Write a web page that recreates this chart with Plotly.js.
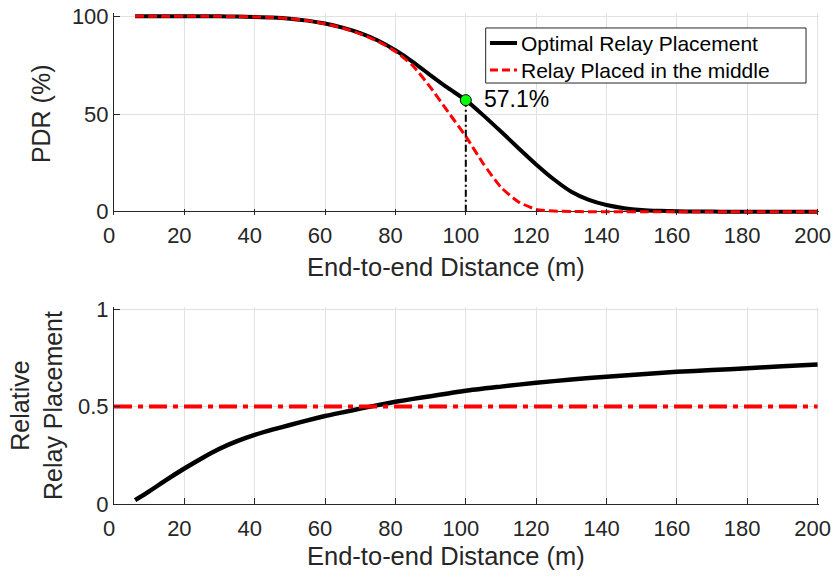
<!DOCTYPE html>
<html>
<head>
<meta charset="utf-8">
<script src="https://cdn.plot.ly/plotly-3.0.1.min.js"></script>
<style>html,body{margin:0;padding:0;background:#fff;}#chart{width:835px;height:577px;}</style>
</head>
<body>
<div id="chart"></div>
<script>
// ---- data ----
const distance = [6,10,15,20,25,30,35,40,45,50,55,60,65,70,75,80,85,90,95,100,105,110,115,120,125,130,135,140,145,150,155,160,165,170,175,180,185,190,195,200];
const pdrOptimal = [100,100,100,100,100,100,99.9,99.7,99.4,98.8,97.8,96.3,94.2,91.4,87.6,82.6,76.6,69.8,63.2,57.1,49.3,41.0,32.5,24.2,16.6,10.2,6.0,3.4,1.8,0.9,0.45,0.2,0.1,0.05,0,0,0,0,0,0];
const pdrMiddle  = [100,100,100,100,100,100,99.9,99.7,99.4,98.8,97.8,96.2,94.0,91.0,87.2,82.0,74.6,63.5,51.0,38.5,24.5,12.5,5.0,1.2,0.3,0.1,0,0,0,0,0,0,0,0,0,0,0,0,0,0];

const relDistance = [6,10,15,20,25,30,35,40,45,50,55,60,65,70,75,80,85,90,95,100,110,120,130,140,150,160,170,180,190,200];
const relOptimal  = [0.02,0.065,0.125,0.182,0.235,0.283,0.322,0.354,0.381,0.405,0.429,0.451,0.47,0.489,0.507,0.524,0.539,0.553,0.567,0.581,0.602,0.622,0.638,0.653,0.666,0.678,0.687,0.696,0.706,0.716];
const middleX = [0,200];
const middleY = [0.5,0.5];

const markX = [100];
const markY = [57.1];
const markLineX = [100,100];
const markLineY = [0,57.1];
const markLabel = '57.1%';

const xTicks = [0,20,40,60,80,100,120,140,160,180,200];
const yTicksTop = [0,50,100];
const yTicksBot = [0,0.5,1];
const yTickTextBot = ['0','0.5','1'];

const names = ['Optimal Relay Placement','Relay Placed in the middle'];
const xTitle = 'End-to-end Distance (m)';
const yTitleTop = 'PDR (%)';
const yTitleBot = 'Relative<br>Relay Placement';

// ---- styles ----
const BLACK = '#000000', RED = '#ff0000', GREEN = '#00ff00', AX = '#262626', GRID = '#e2e2e2';
const redDash = '9px,4px';

// ---- traces ----
const traces = [
  {x: distance, y: pdrOptimal, xaxis:'x', yaxis:'y', mode:'lines', name:names[0], showlegend:false,
   line:{color:BLACK, width:4, shape:'spline', smoothing:0.6}},
  {x: distance, y: pdrMiddle, xaxis:'x', yaxis:'y', mode:'lines', name:names[1], showlegend:false,
   line:{color:RED, width:3, dash:redDash, shape:'spline', smoothing:0.6}},
  {x: markLineX, y: markLineY, xaxis:'x', yaxis:'y', mode:'lines', showlegend:false,
   line:{color:BLACK, width:2, dash:'7px,3px,2px,3px'}},
  {x: markX, y: markY, xaxis:'x', yaxis:'y', mode:'markers', showlegend:false, cliponaxis:false,
   marker:{color:GREEN, size:11, line:{color:BLACK, width:1}}},
  {x: relDistance, y: relOptimal, xaxis:'x2', yaxis:'y2', mode:'lines', showlegend:false,
   line:{color:BLACK, width:4.5, shape:'spline', smoothing:0.6}},
  {x: middleX, y: middleY, xaxis:'x2', yaxis:'y2', mode:'lines', showlegend:false,
   line:{color:RED, width:4, dash:'18px,6px,5px,6px'}}
];

const axisCommon = {
  ticks:'inside', ticklen:6, tickwidth:1, tickcolor:AX,
  showgrid:true, gridcolor:GRID, gridwidth:1,
  tickfont:{size:22, color:AX}
};
const xCommon = Object.assign({}, axisCommon, {
  range:[0,200.4], tickvals:xTicks, ticklabelshift:-5, ticklabelstandoff:5,
  ticklabeloverflow:'allow'
});

// legend geometry (paper coords)
const LG = {x0:0.5272, x1:0.9816, y0:0.8574, y1:0.9695, lx0:0.5333, lx1:0.5716, tx:0.5745, r1:0.9389, r2:0.8839};

const layout = {
  width:835, height:577,
  margin:{l:114, r:16, t:13, b:73},
  paper_bgcolor:'#ffffff', plot_bgcolor:'#ffffff',
  font:{family:'"Liberation Sans", Arial, Helvetica, sans-serif', size:22, color:AX},
  showlegend:false,
  xaxis: Object.assign({}, xCommon, {domain:[0,1], anchor:'y', showline:false, zeroline:false}),
  yaxis: Object.assign({}, axisCommon, {
    domain:[0.5894,1], anchor:'x', range:[-1.5,101.7], tickvals:yTicksTop,
    showline:true, linecolor:AX, linewidth:1,
    zeroline:true, zerolinecolor:AX, zerolinewidth:1,
    title:{text:yTitleTop, font:{size:25, color:AX}, standoff:14}
  }),
  xaxis2: Object.assign({}, xCommon, {domain:[0,1], anchor:'y2', showline:true, linecolor:AX, linewidth:1, zeroline:false}),
  yaxis2: Object.assign({}, axisCommon, {
    domain:[0,0.4011], anchor:'x2', range:[0,1.01], tickvals:yTicksBot, ticktext:yTickTextBot,
    showline:true, linecolor:AX, linewidth:1, zeroline:false,
    title:{text:yTitleBot, font:{size:25, color:AX}, standoff:8}
  }),
  shapes:[
    {type:'rect', xref:'paper', yref:'paper', x0:LG.x0, x1:LG.x1, y0:LG.y0, y1:LG.y1,
     fillcolor:'#ffffff', line:{color:AX, width:1}, layer:'above'},
    {type:'line', xref:'paper', yref:'paper', x0:LG.lx0, x1:LG.lx1, y0:LG.r1, y1:LG.r1,
     line:{color:BLACK, width:4}, layer:'above'},
    {type:'line', xref:'paper', yref:'paper', x0:LG.lx0, x1:LG.lx1, y0:LG.r2, y1:LG.r2,
     line:{color:RED, width:3, dash:'8px,4px'}, layer:'above'}
  ],
  annotations:[
    {x:markX[0], y:markY[0], xref:'x', yref:'y', text:markLabel, showarrow:false,
     xanchor:'left', yanchor:'middle', xshift:16, yshift:1,
     font:{size:23, color:BLACK}},
    {x:LG.tx, y:LG.r1, xref:'paper', yref:'paper', text:names[0], showarrow:false,
     xanchor:'left', yanchor:'middle', font:{size:21, color:BLACK}},
    {x:LG.tx, y:LG.r2, xref:'paper', yref:'paper', text:names[1], showarrow:false,
     xanchor:'left', yanchor:'middle', font:{size:21, color:BLACK}},
    {x:0.4716, y:0.4827, xref:'paper', yref:'paper', text:xTitle, showarrow:false,
     xanchor:'center', yanchor:'middle', font:{size:25.5, color:AX}},
    {x:0.4716, y:-0.1059, xref:'paper', yref:'paper', text:xTitle, showarrow:false,
     xanchor:'center', yanchor:'middle', font:{size:25.5, color:AX}}
  ]
};

Plotly.newPlot('chart', traces, layout, {staticPlot:true, displayModeBar:false});
</script>
</body>
</html>
